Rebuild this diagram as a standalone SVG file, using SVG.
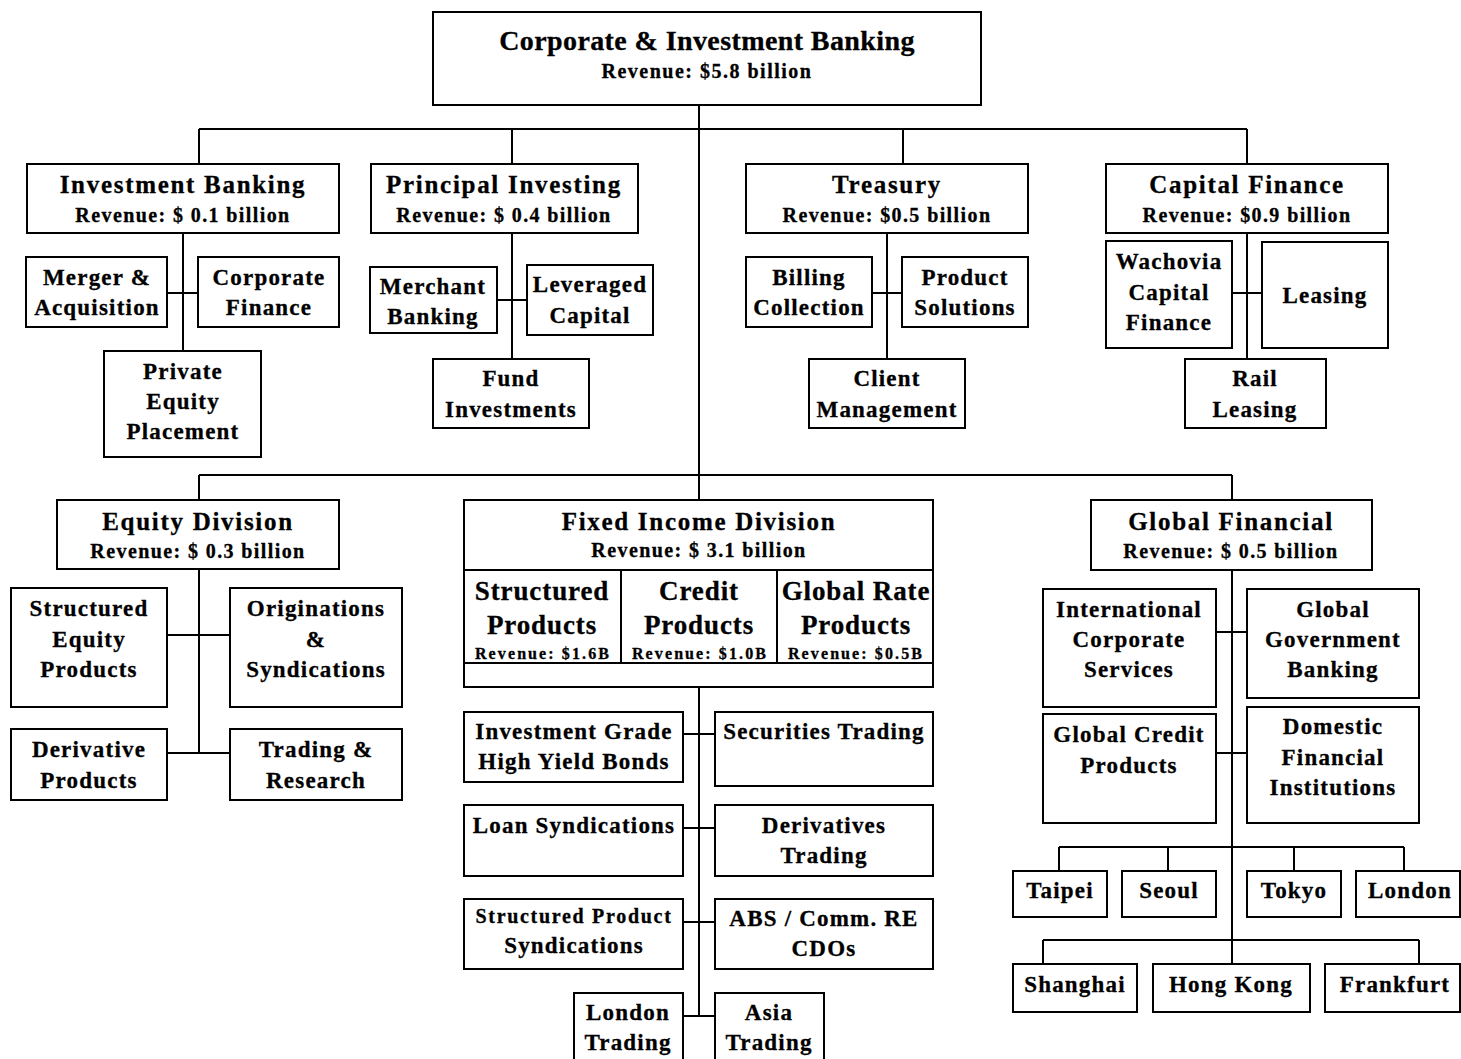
<svg xmlns="http://www.w3.org/2000/svg" width="1461" height="1059" viewBox="0 0 1461 1059">
  <style>
    .box { fill: #ffffff; stroke: #000000; stroke-width: 2; }
    .ln { fill: none; stroke: #000000; stroke-width: 2; }
    text { font-family: "Liberation Serif", "Times New Roman", serif; font-weight: bold; fill: #000000; stroke: #000000; stroke-width: 0.3; text-anchor: middle; }
    .t1 { font-size: 28px; letter-spacing: 0.4px; }
    .t0 { font-size: 20px; letter-spacing: 1.5px; }
    .t2 { font-size: 25px; letter-spacing: 1.7px; }
    .rv { font-size: 20px; letter-spacing: 1.4px; }
    .n { font-size: 23px; letter-spacing: 1.2px; }
    .fi { font-size: 27px; letter-spacing: 0.9px; }
    .sr { font-size: 16px; letter-spacing: 2.1px; }
    .sm { font-size: 20px; letter-spacing: 1.7px; }
  </style>
  <rect width="1461" height="1059" fill="#ffffff"/>

  <!-- connectors -->
  <g id="connectors">
    <path class="ln" d="M699 105 V475 M199 129 H1247 M199 129 V164 M512 129 V164 M903 129 V164 M1247 129 V164"/>
    <path class="ln" d="M183 233 V351 M167 293 H198"/>
    <path class="ln" d="M512 233 V359 M497 300 H527"/>
    <path class="ln" d="M887 233 V359 M872 293 H902"/>
    <path class="ln" d="M1247 233 V359 M1232 293 H1262"/>
    <path class="ln" d="M199 475 H1232 M199 475 V500 M699 475 V500 M1232 475 V500"/>
    <path class="ln" d="M199 569 V753 M167 635 H230 M167 753 H230"/>
    <path class="ln" d="M699 687 V1016 M683 734 H715 M683 828 H715 M683 922 H715 M683 1016 H715"/>
    <path class="ln" d="M1232 570 V964 M1216 632 H1247 M1216 753 H1247"/>
    <path class="ln" d="M1059 847 H1404 M1059 847 V871 M1168 847 V871 M1294 847 V871 M1404 847 V871"/>
    <path class="ln" d="M1043 940 H1419 M1043 940 V964 M1419 940 V964"/>
  </g>

  <g id="cib">
    <rect class="box" x="433" y="12" width="548" height="93"/>
    <text class="t1" x="707" y="50">Corporate &amp; Investment Banking</text>
    <text class="t0" x="707" y="78">Revenue: $5.8 billion</text>
  </g>

  <g id="investment-banking">
    <rect class="box" x="27" y="164" width="312" height="69"/>
    <text class="t2" x="183" y="193">Investment Banking</text>
    <text class="rv" x="183" y="222">Revenue: $ 0.1 billion</text>
  </g>
  <g id="merger">
    <rect class="box" x="26" y="257" width="141" height="70"/>
    <text class="n" x="97" y="285">Merger &amp;</text>
    <text class="n" x="97" y="315">Acquisition</text>
  </g>
  <g id="corporate-finance">
    <rect class="box" x="198" y="257" width="141" height="70"/>
    <text class="n" x="269" y="285">Corporate</text>
    <text class="n" x="269" y="315">Finance</text>
  </g>
  <g id="private-equity">
    <rect class="box" x="104" y="351" width="157" height="106"/>
    <text class="n" x="183" y="379">Private</text>
    <text class="n" x="183" y="409">Equity</text>
    <text class="n" x="183" y="439">Placement</text>
  </g>

  <g id="principal-investing">
    <rect class="box" x="371" y="164" width="267" height="69"/>
    <text class="t2" x="504" y="193">Principal Investing</text>
    <text class="rv" x="504" y="222">Revenue: $ 0.4 billion</text>
  </g>
  <g id="merchant-banking">
    <rect class="box" x="370" y="267" width="127" height="66"/>
    <text class="n" x="433" y="294">Merchant</text>
    <text class="n" x="433" y="324">Banking</text>
  </g>
  <g id="leveraged-capital">
    <rect class="box" x="527" y="265" width="126" height="70"/>
    <text class="n" x="590" y="292">Leveraged</text>
    <text class="n" x="590" y="323">Capital</text>
  </g>
  <g id="fund-investments">
    <rect class="box" x="433" y="359" width="156" height="69"/>
    <text class="n" x="511" y="386">Fund</text>
    <text class="n" x="511" y="417">Investments</text>
  </g>

  <g id="treasury">
    <rect class="box" x="746" y="164" width="282" height="69"/>
    <text class="t2" x="887" y="193">Treasury</text>
    <text class="rv" x="887" y="222">Revenue: $0.5 billion</text>
  </g>
  <g id="billing">
    <rect class="box" x="746" y="257" width="126" height="70"/>
    <text class="n" x="809" y="285">Billing</text>
    <text class="n" x="809" y="315">Collection</text>
  </g>
  <g id="product-solutions">
    <rect class="box" x="902" y="257" width="126" height="70"/>
    <text class="n" x="965" y="285">Product</text>
    <text class="n" x="965" y="315">Solutions</text>
  </g>
  <g id="client-management">
    <rect class="box" x="809" y="359" width="156" height="69"/>
    <text class="n" x="887" y="386">Client</text>
    <text class="n" x="887" y="417">Management</text>
  </g>

  <g id="capital-finance">
    <rect class="box" x="1106" y="164" width="282" height="69"/>
    <text class="t2" x="1247" y="193">Capital Finance</text>
    <text class="rv" x="1247" y="222">Revenue: $0.9 billion</text>
  </g>
  <g id="wachovia">
    <rect class="box" x="1106" y="241" width="126" height="107"/>
    <text class="n" x="1169" y="269">Wachovia</text>
    <text class="n" x="1169" y="300">Capital</text>
    <text class="n" x="1169" y="330">Finance</text>
  </g>
  <g id="leasing">
    <rect class="box" x="1262" y="242" width="126" height="106"/>
    <text class="n" x="1325" y="303">Leasing</text>
  </g>
  <g id="rail-leasing">
    <rect class="box" x="1185" y="359" width="141" height="69"/>
    <text class="n" x="1255" y="386">Rail</text>
    <text class="n" x="1255" y="417">Leasing</text>
  </g>

  <g id="equity-division">
    <rect class="box" x="57" y="500" width="282" height="69"/>
    <text class="t2" x="198" y="530">Equity Division</text>
    <text class="rv" x="198" y="558">Revenue: $ 0.3 billion</text>
  </g>
  <g id="structured-equity">
    <rect class="box" x="11" y="588" width="156" height="119"/>
    <text class="n" x="89" y="616">Structured</text>
    <text class="n" x="89" y="647">Equity</text>
    <text class="n" x="89" y="677">Products</text>
  </g>
  <g id="originations">
    <rect class="box" x="230" y="588" width="172" height="119"/>
    <text class="n" x="316" y="616">Originations</text>
    <text class="n" x="316" y="647">&amp;</text>
    <text class="n" x="316" y="677">Syndications</text>
  </g>
  <g id="derivative-products">
    <rect class="box" x="11" y="729" width="156" height="71"/>
    <text class="n" x="89" y="757">Derivative</text>
    <text class="n" x="89" y="788">Products</text>
  </g>
  <g id="trading-research">
    <rect class="box" x="230" y="729" width="172" height="71"/>
    <text class="n" x="316" y="757">Trading &amp;</text>
    <text class="n" x="316" y="788">Research</text>
  </g>

  <g id="fixed-income">
    <rect class="box" x="464" y="500" width="469" height="187"/>
    <path class="ln" d="M464 570 H933 M464 663 H933 M621 570 V663 M777 570 V663"/>
    <text class="t2" x="699" y="530">Fixed Income Division</text>
    <text class="rv" x="699" y="557">Revenue: $ 3.1 billion</text>
    <text class="fi" x="542" y="600">Structured</text>
    <text class="fi" x="542" y="634">Products</text>
    <text class="sr" x="543" y="659">Revenue: $1.6B</text>
    <text class="fi" x="699" y="600">Credit</text>
    <text class="fi" x="699" y="634">Products</text>
    <text class="sr" x="700" y="659">Revenue: $1.0B</text>
    <text class="fi" x="856" y="600">Global Rate</text>
    <text class="fi" x="856" y="634">Products</text>
    <text class="sr" x="856" y="659">Revenue: $0.5B</text>
  </g>
  <g id="investment-grade">
    <rect class="box" x="464" y="712" width="219" height="70"/>
    <text class="n" x="574" y="739">Investment Grade</text>
    <text class="n" x="574" y="769">High Yield Bonds</text>
  </g>
  <g id="securities-trading">
    <rect class="box" x="715" y="712" width="218" height="74"/>
    <text class="n" x="824" y="739">Securities Trading</text>
  </g>
  <g id="loan-syndications">
    <rect class="box" x="464" y="805" width="219" height="71"/>
    <text class="n" x="574" y="833">Loan Syndications</text>
  </g>
  <g id="derivatives-trading">
    <rect class="box" x="715" y="805" width="218" height="71"/>
    <text class="n" x="824" y="833">Derivatives</text>
    <text class="n" x="824" y="863">Trading</text>
  </g>
  <g id="structured-product-synd">
    <rect class="box" x="464" y="899" width="219" height="70"/>
    <text class="sm" x="574" y="923">Structured Product</text>
    <text class="n" x="574" y="953">Syndications</text>
  </g>
  <g id="abs-cdos">
    <rect class="box" x="715" y="899" width="218" height="70"/>
    <text class="n" x="824" y="926">ABS / Comm. RE</text>
    <text class="n" x="824" y="956">CDOs</text>
  </g>
  <g id="london-trading">
    <rect class="box" x="574" y="993" width="109" height="70"/>
    <text class="n" x="628" y="1020">London</text>
    <text class="n" x="628" y="1050">Trading</text>
  </g>
  <g id="asia-trading">
    <rect class="box" x="715" y="993" width="109" height="70"/>
    <text class="n" x="769" y="1020">Asia</text>
    <text class="n" x="769" y="1050">Trading</text>
  </g>

  <g id="global-financial">
    <rect class="box" x="1091" y="500" width="281" height="70"/>
    <text class="t2" x="1231" y="530">Global Financial</text>
    <text class="rv" x="1231" y="558">Revenue: $ 0.5 billion</text>
  </g>
  <g id="intl-corporate">
    <rect class="box" x="1043" y="589" width="173" height="118"/>
    <text class="n" x="1129" y="617">International</text>
    <text class="n" x="1129" y="647">Corporate</text>
    <text class="n" x="1129" y="677">Services</text>
  </g>
  <g id="global-government">
    <rect class="box" x="1247" y="589" width="172" height="109"/>
    <text class="n" x="1333" y="617">Global</text>
    <text class="n" x="1333" y="647">Government</text>
    <text class="n" x="1333" y="677">Banking</text>
  </g>
  <g id="global-credit">
    <rect class="box" x="1043" y="714" width="173" height="109"/>
    <text class="n" x="1129" y="742">Global Credit</text>
    <text class="n" x="1129" y="773">Products</text>
  </g>
  <g id="domestic-fi">
    <rect class="box" x="1247" y="707" width="172" height="116"/>
    <text class="n" x="1333" y="734">Domestic</text>
    <text class="n" x="1333" y="765">Financial</text>
    <text class="n" x="1333" y="795">Institutions</text>
  </g>
  <g id="taipei">
    <rect class="box" x="1013" y="871" width="94" height="46"/>
    <text class="n" x="1060" y="898">Taipei</text>
  </g>
  <g id="seoul">
    <rect class="box" x="1122" y="871" width="94" height="46"/>
    <text class="n" x="1169" y="898">Seoul</text>
  </g>
  <g id="tokyo">
    <rect class="box" x="1247" y="871" width="94" height="46"/>
    <text class="n" x="1294" y="898">Tokyo</text>
  </g>
  <g id="london">
    <rect class="box" x="1356" y="871" width="104" height="46"/>
    <text class="n" x="1410" y="898">London</text>
  </g>
  <g id="shanghai">
    <rect class="box" x="1013" y="964" width="124" height="48"/>
    <text class="n" x="1075" y="992">Shanghai</text>
  </g>
  <g id="hong-kong">
    <rect class="box" x="1153" y="964" width="157" height="48"/>
    <text class="n" x="1231" y="992">Hong Kong</text>
  </g>
  <g id="frankfurt">
    <rect class="box" x="1325" y="964" width="135" height="48"/>
    <text class="n" x="1395" y="992">Frankfurt</text>
  </g>
</svg>
